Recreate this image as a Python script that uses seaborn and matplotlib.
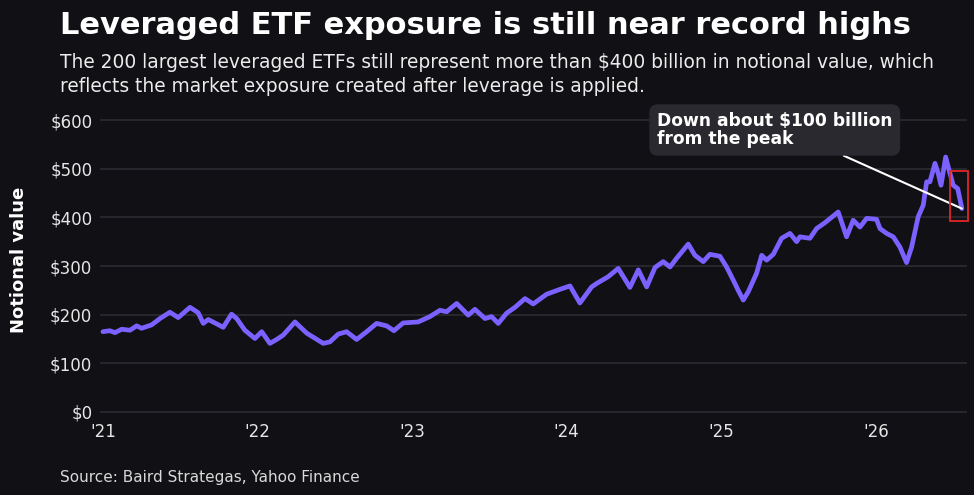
import matplotlib
matplotlib.use('Agg')
import pandas as pd
import seaborn as sns
import matplotlib.pyplot as plt
from matplotlib.patches import Rectangle

# notional value of the 200 largest leveraged ETFs, $ billion
dates = [
    2021.000, 2021.045, 2021.078, 2021.121, 2021.175, 2021.218, 2021.250, 2021.315,
    2021.369, 2021.433, 2021.487, 2021.563, 2021.616, 2021.649, 2021.681, 2021.724,
    2021.778, 2021.832, 2021.865, 2021.918, 2021.983, 2022.027, 2022.080, 2022.124,
    2022.166, 2022.242, 2022.318, 2022.425, 2022.468, 2022.522, 2022.576, 2022.641,
    2022.706, 2022.770, 2022.835, 2022.882, 2022.942, 2023.039, 2023.115, 2023.180,
    2023.223, 2023.288, 2023.363, 2023.406, 2023.471, 2023.514, 2023.557, 2023.611,
    2023.665, 2023.730, 2023.783, 2023.870, 2023.956, 2024.021, 2024.085, 2024.161,
    2024.193, 2024.268, 2024.333, 2024.409, 2024.463, 2024.517, 2024.571, 2024.624,
    2024.668, 2024.711, 2024.786, 2024.829, 2024.883, 2024.926, 2024.991, 2025.034,
    2025.077, 2025.109, 2025.142, 2025.174, 2025.228, 2025.261, 2025.293, 2025.336,
    2025.390, 2025.444, 2025.487, 2025.508, 2025.573, 2025.616, 2025.670, 2025.756,
    2025.810, 2025.853, 2025.897, 2025.940, 2026.004, 2026.026, 2026.069, 2026.112,
    2026.155, 2026.198, 2026.231, 2026.273, 2026.306, 2026.328, 2026.349, 2026.382,
    2026.403, 2026.421, 2026.451, 2026.479, 2026.500, 2026.529, 2026.556,
]
values = [
    165, 167, 163, 170, 168, 177, 172, 179,
    192, 205, 194, 215, 204, 182, 190, 183,
    174, 201, 192, 168, 151, 165, 141, 149,
    158, 185, 162, 141, 144, 160, 165, 149,
    165, 182, 177, 167, 183, 185, 196, 209,
    206, 223, 199, 211, 192, 196, 182, 203,
    215, 233, 222, 242, 252, 259, 224, 257,
    264, 278, 295, 256, 292, 257, 297, 309,
    298, 316, 345, 322, 309, 324, 320, 298,
    271, 250, 230, 247, 285, 322, 312, 324,
    357, 367, 350, 360, 357, 377, 389, 411,
    360, 394, 380, 398, 396, 377, 367, 360,
    339, 307, 339, 401, 425, 473, 473, 511,
    490, 466, 524, 490, 466, 459, 418,
]

year_ticks = [2021, 2022, 2023, 2024, 2025, 2026]
year_labels = ["'21", "'22", "'23", "'24", "'25", "'26"]
value_ticks = [0, 100, 200, 300, 400, 500, 600]
value_labels = ['$0', '$100', '$200', '$300', '$400', '$500', '$600']

df = pd.DataFrame({'date': dates, 'notional': values})

bg = '#111014'
sns.set_theme(style='dark')
plt.rcParams['font.family'] = ['DejaVu Sans']

fig = plt.figure(figsize=(9.74, 4.95), dpi=100, facecolor=bg)
ax = fig.add_axes([100/974, 1 - 414.4/495, 867/974, 296.8/495])
ax.set_facecolor(bg)

sns.lineplot(data=df, x='date', y='notional', ax=ax, color='#7b61ff', linewidth=3.4)

ax.set_xlim(2020.981, 2026.589)
ax.set_ylim(-5, 605)
ax.set_xticks(year_ticks)
ax.set_xticklabels(year_labels, color='#e6e6e6', fontsize=12)
ax.set_yticks(value_ticks)
ax.set_yticklabels(value_labels, color='#e6e6e6', fontsize=12)
ax.tick_params(axis='both', length=0)
ax.tick_params(axis='x', pad=6)
ax.tick_params(axis='y', pad=5.5)
ax.grid(axis='y', color='#2c2b31', linewidth=1.2)
ax.grid(axis='x', visible=False)
for s in ax.spines.values():
    s.set_visible(False)
ax.set_xlabel('')
ax.set_ylabel('Notional value', color='white', fontsize=13, fontweight='bold')
ax.yaxis.set_label_coords(-0.083, 0.52)

# titel und untertitel
fig.text(60/974, 1 - 34.5/495, 'Leveraged ETF exposure is still near record highs',
         color='white', fontsize=22, fontweight='bold', va='baseline')
fig.text(60/974, 1 - 68.5/495,
         'The 200 largest leveraged ETFs still represent more than $400 billion in notional value, which',
         color='#ececec', fontsize=13.45, va='baseline')
fig.text(60/974, 1 - 92.5/495, 'reflects the market exposure created after leverage is applied.',
         color='#ececec', fontsize=13.45, va='baseline')
fig.text(60/974, 1 - 482/495, 'Source: Baird Strategas, Yahoo Finance',
         color='#d8d8d8', fontsize=11, va='baseline')

# anmerkung mit pfeil
ax.annotate('Down about $100 billion\nfrom the peak',
            xy=(dates[-1], values[-1]), xycoords='data',
            xytext=(657/974, 1 - 112/495), textcoords='figure fraction',
            ha='left', va='top', color='white', fontsize=12.3, fontweight='bold',
            linespacing=1.0,
            bbox=dict(boxstyle='round,pad=0.45,rounding_size=0.5', fc='#2a2930', ec='none'),
            arrowprops=dict(arrowstyle='-', color='white', lw=1.5,
                            relpos=(0.72, 0), shrinkA=0, shrinkB=0))

ax.add_patch(Rectangle((2026.48, 393), 0.117, 103, fill=False, edgecolor='#e0262b',
                       linewidth=1.3, clip_on=False, zorder=5))

plt.savefig('out.png', dpi=100, facecolor=bg)
